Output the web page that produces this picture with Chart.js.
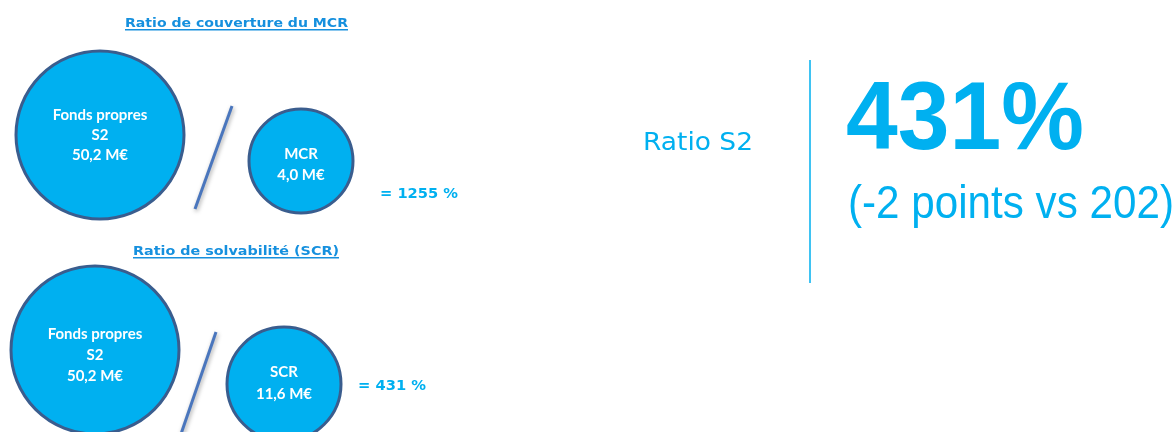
<!DOCTYPE html>
<html>
<head>
<meta charset="utf-8">
<script src="https://cdn.jsdelivr.net/npm/chart.js@4/dist/chart.umd.min.js"></script>
<style>
  html, body { margin: 0; padding: 0; background: #ffffff; }
  #wrap { width: 1176px; height: 432px; }
</style>
</head>
<body>
<div id="wrap"><canvas id="ratioChart" width="1176" height="432"></canvas></div>
<script>
// --- data ---
const blockTitles = ['Ratio de couverture du MCR', 'Ratio de solvabilité (SCR)'];
const fundsLabel = ['Fonds propres', 'S2'];
const fundsValues = [50.2, 50.2];
const requirementNames = ['MCR', 'SCR'];
const requirementValues = [4.0, 11.6];
const coverageRatios = [1255, 431];

const headlineLabel = 'Ratio S2';
const headlineRatio = 431;
const headlineDelta = -2;
const headlineRefYear = '202';

// --- layout (pixels, scales map 1:1 to the canvas) ---
const blocks = [
    {
        title: { x: 125, y: 27, w: 223 },
        funds: { x: 100, y: 135, r: 84, base: 120, step: 20 },
        req:   { x: 301, y: 161, r: 52, base: 159, step: 21 },
        slash: [[232, 106], [195, 209]],
        result: { x: 380, y: 198, w: 78 }
    },
    {
        title: { x: 133, y: 255, w: 206 },
        funds: { x: 95, y: 350, r: 84, base: 339, step: 21 },
        req:   { x: 284, y: 384, r: 57, base: 377, step: 22 },
        slash: [[216, 332], [181, 434]],
        result: { x: 358, y: 390, w: 68 }
    }
];
const divider = [[810, 60], [810, 283]];

const CYAN = '#00b0f0';
const TITLE_BLUE = '#1690de';
const RING = '#3a5d8e';
const SLASH = '#4a76bd';

const fmt = (v) => v.toLocaleString('fr-FR', { minimumFractionDigits: 1, maximumFractionDigits: 1 }) + ' M€';

// bubble points: funds + requirement for each block
const bubblePoints = [];
const bubbleText = [];
blocks.forEach((b, i) => {
    bubblePoints.push({ x: b.funds.x, y: b.funds.y, r: b.funds.r });
    bubbleText.push({ lines: [fundsLabel[0], fundsLabel[1], fmt(fundsValues[i])], base: b.funds.base, step: b.funds.step });
    bubblePoints.push({ x: b.req.x, y: b.req.y, r: b.req.r });
    bubbleText.push({ lines: [requirementNames[i], fmt(requirementValues[i])], base: b.req.base, step: b.req.step });
});

const lineSet = (pts, color, width, shadow) => ({
    type: 'line',
    data: pts.map(p => ({ x: p[0], y: p[1] })),
    borderColor: color,
    borderWidth: width,
    pointRadius: 0,
    fill: false,
    clip: false,
    shadow: shadow
});

function fitText(ctx, text, x, y, w) {
    const m = ctx.measureText(text).width;
    ctx.save();
    ctx.translate(x, y);
    ctx.scale(w / m, 1);
    ctx.textAlign = 'left';
    ctx.fillText(text, 0, 0);
    ctx.restore();
}

const shadowPlugin = {
    id: 'slashShadow',
    beforeDatasetDraw(chart, args) {
        const ds = chart.data.datasets[args.index];
        chart.ctx.save();
        if (ds.shadow) {
            chart.ctx.shadowColor = 'rgba(0,0,0,0.35)';
            chart.ctx.shadowBlur = 4;
            chart.ctx.shadowOffsetX = 1;
            chart.ctx.shadowOffsetY = 2;
        }
    },
    afterDatasetDraw(chart) {
        chart.ctx.restore();
    }
};

const textPlugin = {
    id: 'infoText',
    afterDatasetsDraw(chart) {
        const ctx = chart.ctx;
        ctx.save();
        ctx.textBaseline = 'alphabetic';

        // text inside circles
        const meta = chart.getDatasetMeta(0);
        ctx.fillStyle = '#ffffff';
        ctx.font = 'bold 15px Lato';
        ctx.textAlign = 'center';
        meta.data.forEach((el, i) => {
            const t = bubbleText[i];
            t.lines.forEach((ln, k) => ctx.fillText(ln, el.x, t.base + k * t.step));
        });

        // block titles and results
        blocks.forEach((b, i) => {
            ctx.fillStyle = TITLE_BLUE;
            ctx.font = 'bold 13px "DejaVu Sans"';
            fitText(ctx, blockTitles[i], b.title.x, b.title.y, b.title.w);
            ctx.fillRect(b.title.x, b.title.y + 2, b.title.w, 1.5);

            ctx.fillStyle = CYAN;
            ctx.font = 'bold 14px "DejaVu Sans"';
            fitText(ctx, '= ' + coverageRatios[i] + ' %', b.result.x, b.result.y, b.result.w);
        });

        // headline on the right
        ctx.fillStyle = CYAN;
        ctx.font = '24px "DejaVu Sans"';
        fitText(ctx, headlineLabel, 643, 150, 110);

        ctx.font = 'bold 97px "Liberation Sans"';
        fitText(ctx, headlineRatio + '%', 846, 149, 238);

        ctx.font = '46px "Liberation Sans"';
        fitText(ctx, '(' + headlineDelta + ' points vs ' + headlineRefYear + ')', 848, 218, 326);

        ctx.restore();
    }
};

new Chart(document.getElementById('ratioChart'), {
    type: 'bubble',
    data: {
        datasets: [
            {
                data: bubblePoints,
                backgroundColor: CYAN,
                borderColor: RING,
                borderWidth: 3,
                hoverBorderWidth: 3,
                clip: false
            },
            lineSet(blocks[0].slash, SLASH, 3, true),
            lineSet(blocks[1].slash, SLASH, 3, true),
            lineSet(divider, CYAN, 1.5, false)
        ]
    },
    options: {
        responsive: false,
        animation: false,
        devicePixelRatio: 1,
        layout: { padding: 0, autoPadding: false },
        scales: {
            x: { type: 'linear', min: 0, max: 1176, display: false },
            y: { type: 'linear', min: 0, max: 432, reverse: true, display: false }
        },
        plugins: {
            legend: { display: false },
            tooltip: { enabled: false }
        }
    },
    plugins: [shadowPlugin, textPlugin]
});
</script>
</body>
</html>
